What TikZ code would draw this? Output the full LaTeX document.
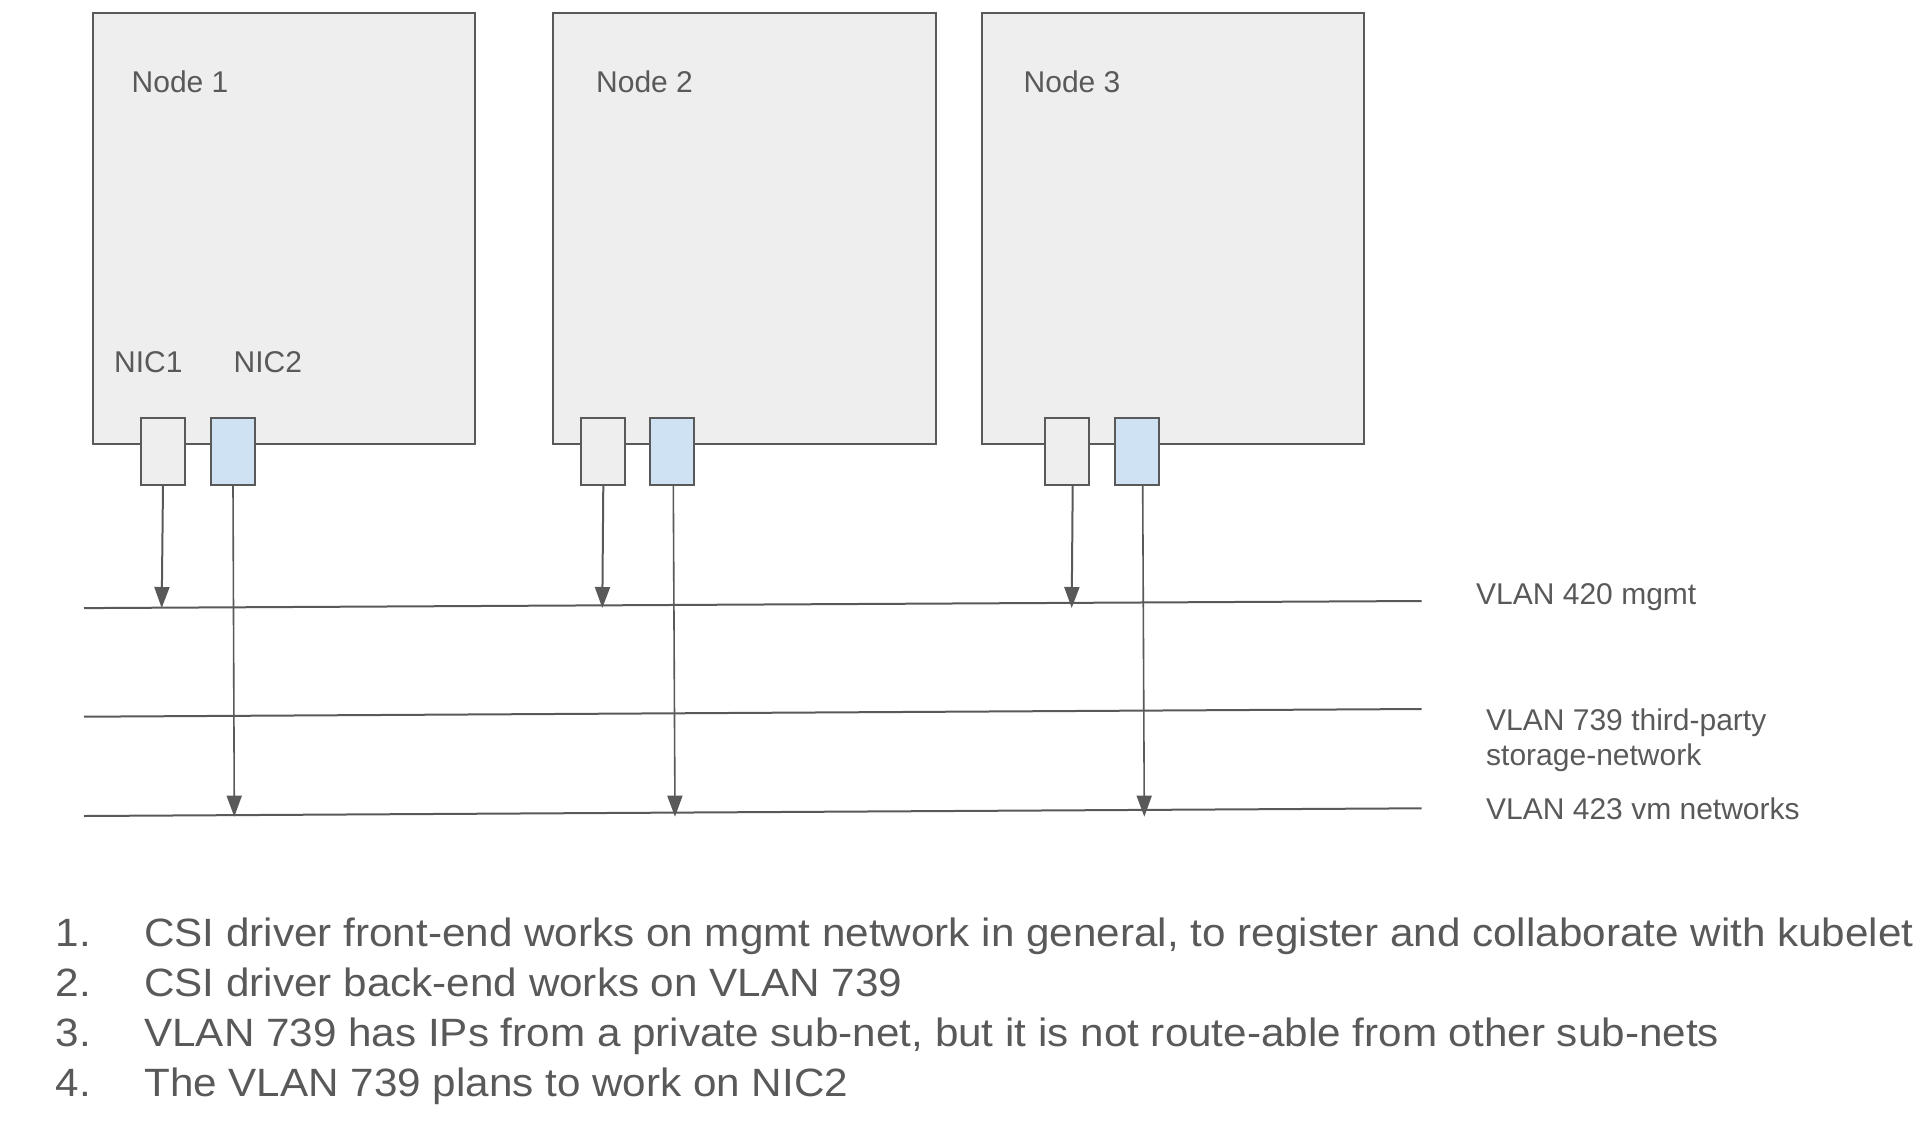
\documentclass[tikz,border=0pt]{standalone}
\usepackage{fontspec}
\setmainfont{Liberation Sans}
\newfontfamily\listfont[FakeStretch=1.069]{Liberation Sans}
\usetikzlibrary{arrows.meta}
\definecolor{ink}{HTML}{595959}
\definecolor{nodefill}{HTML}{EEEEEE}
\definecolor{nicblue}{HTML}{CFE2F3}
\begin{document}
\begin{tikzpicture}[x=1pt,y=-1pt,
  hostbox/.style={draw=ink, fill=nodefill, line width=2pt, inner sep=0pt, anchor=north west,
                  minimum width=382.5pt, minimum height=430.8pt},
  nicbox/.style={draw=ink, line width=2pt, inner sep=0pt, anchor=north west,
                 minimum width=44pt, minimum height=66.8pt},
  lbl/.style={text=ink, font=\fontsize{30}{35}\selectfont, inner sep=0pt, anchor=base west},
  listtxt/.style={text=ink, font=\listfont\fontsize{39.5}{50}\selectfont, inner sep=0pt, anchor=base west},
  vlan/.style={draw=ink, line width=2pt},
  arr/.style={draw=ink, line width=2pt, -{Triangle[length=21pt,width=15pt]}},
  arrthin/.style={draw=ink, line width=1.6pt, -{Triangle[length=21pt,width=15pt]}},
]
\useasboundingbox (0,0) rectangle (1928,1130);

% hosts
\node[hostbox] (host1) at (91.7,12) {};
\node[hostbox] (host2) at (552.3,12) {};
\node[hostbox] (host3) at (980.5,12) {};

\node[lbl] (lbl1) at (131.5,92.3) {Node 1};
\node[lbl] (lbl2) at (596,92.3) {Node 2};
\node[lbl] (lbl3) at (1023.5,92.3) {Node 3};

\node[lbl] (nic1lbl) at (114,372.3) {NIC1};
\node[lbl] (nic2lbl) at (233.5,372.3) {NIC2};

% NICs
\node[nicbox, fill=nodefill] (n1a) at (140.3,416.7) {};
\node[nicbox, fill=nicblue]  (n1b) at (210.3,416.7) {};
\node[nicbox, fill=nodefill] (n2a) at (579.5,416.7) {};
\node[nicbox, fill=nicblue]  (n2b) at (649.3,416.7) {};
\node[nicbox, fill=nodefill] (n3a) at (1043.7,416.7) {};
\node[nicbox, fill=nicblue]  (n3b) at (1113.7,416.7) {};

% VLAN lines
\coordinate (v420a) at (84,608.1);   \coordinate (v420b) at (1421.7,601);
\coordinate (v739a) at (84,716.7);   \coordinate (v739b) at (1421.7,709);
\coordinate (v423a) at (84,816);     \coordinate (v423b) at (1421.7,808.3);
\draw[vlan] (v420a) -- (v420b);
\draw[vlan] (v739a) -- (v739b);
\draw[vlan] (v423a) -- (v423b);

% arrow ends
\coordinate (t1a) at (161.7,608);
\coordinate (t2a) at (602.3,608);
\coordinate (t3a) at (1071.7,608);
\coordinate (t1b) at (234.3,816.7);
\coordinate (t2b) at (675,816.7);
\coordinate (t3b) at (1144.3,816.7);

\draw[arr] ([xshift=-0.3pt]n1a.south) -- (t1a);
\draw[arr] ([xshift=0.8pt]n2a.south) -- (t2a);
\draw[arr] ([xshift=6pt]n3a.south) -- (t3a);
\draw[arrthin] ([xshift=-0.3pt]n1b.south) -- (t1b);
\draw[arrthin] ([xshift=1pt]n2b.south) -- (t2b);
\draw[arrthin] ([xshift=6pt]n3b.south) -- (t3b);

% VLAN labels
\node[lbl] (l420) at (1476,604.3) {VLAN 420 mgmt};
\node[lbl] (l739a) at (1486,730) {VLAN 739 third-party};
\node[lbl] (l739b) at (1486,765) {storage-network};
\node[lbl] (l423) at (1486,819) {VLAN 423 vm networks};

% list
\node[listtxt] (num1) at (55.5,946.7) {1.};
\node[listtxt] (num2) at (55.5,996.5) {2.};
\node[listtxt] (num3) at (55.5,1046.5) {3.};
\node[listtxt] (num4) at (55.5,1096.7) {4.};
\node[listtxt] (item1) at (144,946.7) {CSI driver front-end works on mgmt network in general, to register and collaborate with kubelet};
\node[listtxt] (item2) at (144,996.5) {CSI driver back-end works on VLAN 739};
\node[listtxt] (item3) at (144,1046.5) {VLAN 739 has IPs from a private sub-net, but it is not route-able from other sub-nets};
\node[listtxt] (item4) at (144,1096.7) {The VLAN 739 plans to work on NIC2};
\end{tikzpicture}
\end{document}
